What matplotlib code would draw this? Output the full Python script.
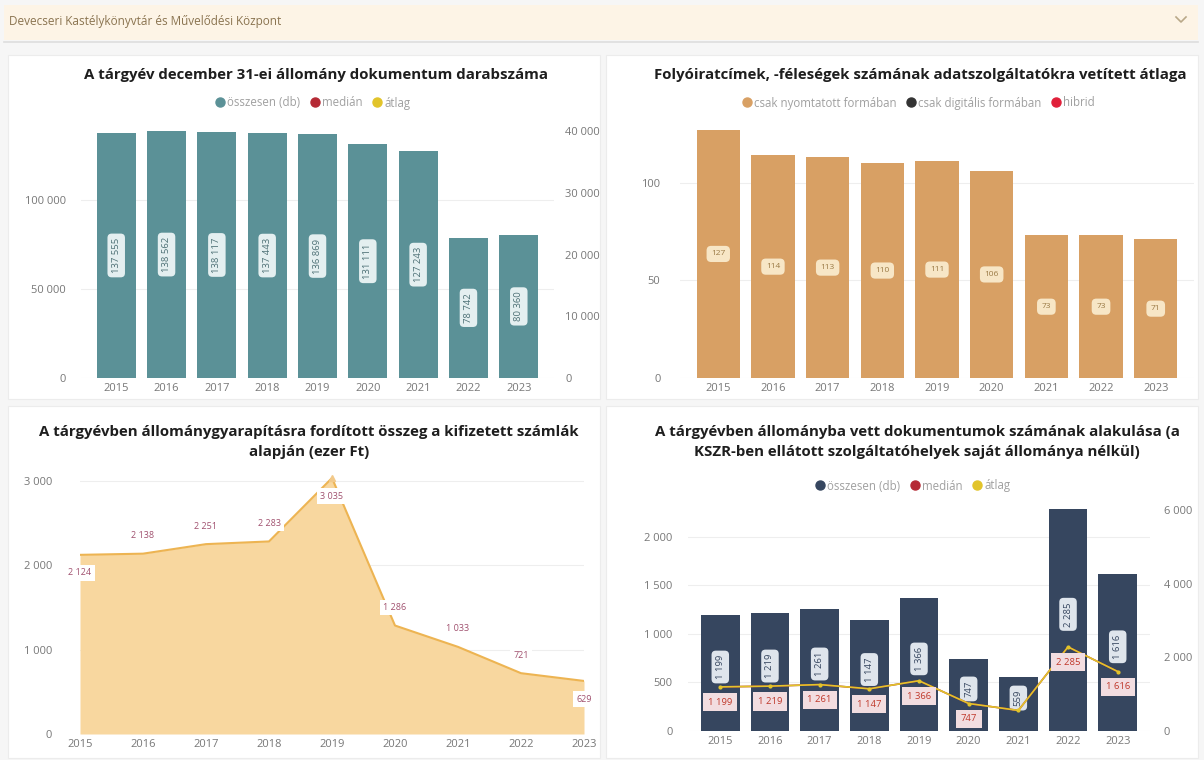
import matplotlib
matplotlib.use("Agg")
import matplotlib.pyplot as plt
from matplotlib.patches import Rectangle
from matplotlib.lines import Line2D
import numpy as np

plt.rcParams["font.family"] = ["Open Sans", "DejaVu Sans"]

# =========================
# DATA
# =========================
years = ["2015", "2016", "2017", "2018", "2019", "2020", "2021", "2022", "2023"]

# A tárgyév december 31-ei állomány dokumentum darabszáma
stock_total = [137555, 138562, 138117, 137443, 136869, 131111, 127243, 78742, 80360]

# Folyóiratcímek átlaga (csak nyomtatott formában)
periodicals_print = [127, 114, 113, 110, 111, 106, 73, 73, 71]

# Állománygyarapításra fordított összeg (ezer Ft)
spending = [2124, 2138, 2251, 2283, 3035, 1286, 1033, 721, 629]

# Állományba vett dokumentumok
acq_total = [1199, 1219, 1261, 1147, 1366, 747, 559, 2285, 1616]
acq_median = [1199, 1219, 1261, 1147, 1366, 747, 559, 2285, 1616]
acq_mean = [1199, 1219, 1261, 1147, 1366, 747, 559, 2285, 1616]
median_label_shown = [True, True, True, True, True, True, False, True, True]


def hu(v):
    # Hungarian thousands separator (space)
    return f"{v:,}".replace(",", " ")


# =========================
# COLORS
# =========================
TEAL = "#5b9197"
TAN = "#d8a064"
NAVY = "#36465f"
AREA = "#f8d79f"
AREA_LINE = "#edb452"
YELLOW = "#e2c42a"
RED = "#b52a35"
TICK = "#777777"
TITLE = "#1e1e1e"

W, H = 1204, 760
fig = plt.figure(figsize=(W / 100, H / 100), dpi=100)
fig.patch.set_facecolor("#f6f6f6")


def fx(x):
    return x / W


def fy(y):
    return 1 - y / H


def ax_rect(x0, x1, y_top, y_bot):
    return [fx(x0), fy(y_bot), (x1 - x0) / W, (y_bot - y_top) / H]


# panel backgrounds
for (x0, y0, x1, y1) in [(8, 55, 600, 399), (606, 55, 1198, 399),
                         (8, 406, 600, 758), (606, 406, 1198, 758)]:
    fig.patches.append(Rectangle((fx(x0), fy(y1)), (x1 - x0) / W, (y1 - y0) / H,
                                 transform=fig.transFigure, facecolor="white",
                                 edgecolor="#ececec", linewidth=0.8, zorder=-5))

# header bar
fig.patches.append(Rectangle((fx(4), fy(40)), (1198 - 4) / W, 35 / H,
                             transform=fig.transFigure, facecolor="#fdf4e6",
                             edgecolor="none", zorder=-5))
fig.add_artist(Line2D([fx(4), fx(1198)], [fy(42), fy(42)], color="#dddddd", linewidth=1.2))
fig.text(fx(9), fy(21), "Devecseri Kastélykönyvtár és Művelődési Központ",
         fontsize=8.5, color="#8a7450", va="center", ha="left")
fig.add_artist(Line2D([fx(1176), fx(1181), fx(1186)], [fy(17), fy(22), fy(17)],
                      color="#b9a888", linewidth=1.2))


def style_axis(ax, grid=True):
    for s in ax.spines.values():
        s.set_visible(False)
    ax.patch.set_alpha(0)
    ax.tick_params(length=0, labelsize=8, colors=TICK)
    if grid:
        ax.grid(axis="y", color="#eeeeee", linewidth=0.8)
    ax.set_axisbelow(True)


def legend(handles, labels, x, y):
    fig.legend(handles, labels, loc="center", bbox_to_anchor=(fx(x), fy(y)),
               ncol=len(labels), frameon=False, fontsize=8.3, labelcolor="#a0a0a0",
               handletextpad=0.1, columnspacing=0.8, handlelength=1.0, borderpad=0)


def dot(c):
    return Line2D([], [], marker="o", linestyle="none", markersize=6.5, color=c)


def title(text, x, y):
    fig.text(fx(x), fy(y), text, fontsize=10.8, fontweight="bold", color=TITLE,
             ha="center", va="center")


x = np.arange(len(years))

# =========================
# PANEL 1
# =========================
ax1 = fig.add_axes(ax_rect(81, 554, 125, 378))
style_axis(ax1)
ax1.bar(x, stock_total, width=0.78, color=TEAL, zorder=2)
ax1.set_xlim(-0.7, 8.7)
ax1.set_ylim(0, 142000)
ax1.set_yticks([0, 50000, 100000])
ax1.set_yticklabels([hu(v) for v in [0, 50000, 100000]])
ax1.set_xticks(x)
ax1.set_xticklabels(years)
ax1.tick_params(axis="y", pad=11)
for xi, v in zip(x, stock_total):
    ax1.text(xi, v / 2, hu(v), rotation=90, ha="center", va="center", fontsize=6.8,
             color="#4d7075", zorder=3,
             bbox=dict(boxstyle="round,pad=0.45", facecolor="#e4eff0", edgecolor="none"))
ax1r = ax1.twinx()
style_axis(ax1r, grid=False)
ax1r.set_ylim(0, 41000)
ax1r.set_yticks([0, 10000, 20000, 30000, 40000])
ax1r.set_yticklabels([hu(v) for v in [0, 10000, 20000, 30000, 40000]])
ax1r.tick_params(pad=8)
title("A tárgyév december 31-ei állomány dokumentum darabszáma", 316, 75)
legend([dot(TEAL), dot(RED), dot(YELLOW)], ["összesen (db)", "medián", "átlag"], 312, 103)

# =========================
# PANEL 2
# =========================
ax2 = fig.add_axes(ax_rect(680, 1194, 125, 378))
style_axis(ax2)
ax2.bar(x, periodicals_print, width=0.79, color=TAN, zorder=2)
ax2.set_xlim(-0.7, 8.7)
ax2.set_ylim(0, 129.5)
ax2.set_yticks([0, 50, 100])
ax2.set_xticks(x)
ax2.set_xticklabels(years)
ax2.tick_params(axis="y", pad=14)
for xi, v in zip(x, periodicals_print):
    ax2.text(xi, v / 2, str(v), ha="center", va="center", fontsize=6,
             color="#9a7a45", zorder=3,
             bbox=dict(boxstyle="round,pad=0.55", facecolor="#f7e6c6", edgecolor="none"))
title("Folyóiratcímek, -féleségek számának adatszolgáltatókra vetített átlaga", 920, 75)
legend([dot(TAN), dot("#333333"), dot("#e0203a")],
       ["csak nyomtatott formában", "csak digitális formában", "hibrid"], 918, 103)

# =========================
# PANEL 3
# =========================
ax3 = fig.add_axes(ax_rect(80, 584, 470, 734))
style_axis(ax3)
ax3.fill_between(x, spending, color=AREA, zorder=1, linewidth=0)
ax3.plot(x, spending, color=AREA_LINE, linewidth=1.5, zorder=2)
ax3.set_xlim(0, 8)
ax3.set_ylim(0, 3130)
ax3.set_yticks([0, 1000, 2000, 3000])
ax3.set_yticklabels([hu(v) for v in [0, 1000, 2000, 3000]])
ax3.set_xticks(x)
ax3.set_xticklabels(years)
ax3.tick_params(axis="y", pad=20)
below = [True, False, False, False, True, False, False, False, True]
for xi, v, b in zip(x, spending, below):
    off = -13 if b else 13
    ax3.annotate(hu(v), (xi, v), xytext=(0, off), textcoords="offset points",
                 ha="center", va="center", fontsize=6.5, color="#a0506e", zorder=4,
                 bbox=dict(boxstyle="square,pad=0.35", facecolor="white", edgecolor="none"))
ax3.plot([4], [spending[4]], marker="^", markersize=4, color="#f2c98a", zorder=3)
title("A tárgyévben állománygyarapításra fordított összeg a kifizetett számlák", 309, 432)
title("alapján (ezer Ft)", 309, 452)

# =========================
# PANEL 4
# =========================
ax4 = fig.add_axes(ax_rect(688, 1150, 500, 731))
style_axis(ax4)
ax4.bar(x, acq_total, width=0.78, color=NAVY, zorder=2)
ax4.set_xlim(-0.65, 8.65)
ax4.set_ylim(0, 2381)
ax4.set_yticks([0, 500, 1000, 1500, 2000])
ax4.set_yticklabels([hu(v) for v in [0, 500, 1000, 1500, 2000]])
ax4.set_xticks(x)
ax4.set_xticklabels(years)
ax4.tick_params(axis="y", pad=11)
for xi, v in zip(x, acq_total):
    ax4.text(xi, v / 2 + 60, hu(v), rotation=90, ha="center", va="center", fontsize=6.8,
             color=NAVY, zorder=5,
             bbox=dict(boxstyle="round,pad=0.45", facecolor="#dfe5ec", edgecolor="none"))
ax4r = ax4.twinx()
style_axis(ax4r, grid=False)
ax4r.set_ylim(0, 6277)
ax4r.set_yticks([0, 2000, 4000, 6000])
ax4r.set_yticklabels([hu(v) for v in [0, 2000, 4000, 6000]])
ax4r.tick_params(pad=10)
ax4r.plot(x, acq_median, color=RED, linewidth=1.2, zorder=3)
ax4r.plot(x, acq_mean, color=YELLOW, linewidth=1.2, marker="o", markersize=2, zorder=4)
for xi, v, show in zip(x, acq_median, median_label_shown):
    if show:
        ax4r.annotate(hu(v), (xi, v), xytext=(0, -11), textcoords="offset points",
                      ha="center", va="center", fontsize=6.8, color="#c0392b", zorder=6,
                      bbox=dict(boxstyle="square,pad=0.5", facecolor="#f2dde0", edgecolor="none"))
title("A tárgyévben állományba vett dokumentumok számának alakulása (a", 917, 432)
title("KSZR-ben ellátott szolgáltatóhelyek saját állománya nélkül)", 917, 452)
legend([dot(NAVY), dot(RED), dot(YELLOW)], ["összesen (db)", "medián", "átlag"], 912, 486)

fig.savefig("out.png", dpi=100, facecolor=fig.get_facecolor())
